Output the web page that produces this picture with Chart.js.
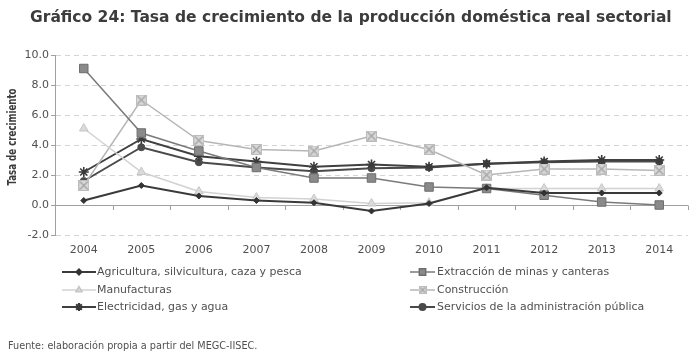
<!DOCTYPE html>
<html><head><meta charset="utf-8">
<script src="https://cdn.jsdelivr.net/npm/chart.js@4/dist/chart.umd.min.js"></script>
<style>
html,body{margin:0;padding:0;overflow:hidden;background:#fff;width:689px;height:359px}
#wrap{position:relative;width:695px;height:359px}
</style>
</head><body><div id="wrap"><canvas id="c" width="695" height="359"></canvas></div>
<script>
// ---- data ----
const years = ['2004','2005','2006','2007','2008','2009','2010','2011','2012','2013','2014'];
const agricultura  = [0.3, 1.3, 0.6, 0.3, 0.15, -0.4, 0.1, 1.15, 0.8, 0.8, 0.8];
const extraccion   = [9.1, 4.8, 3.6, 2.5, 1.8, 1.8, 1.2, 1.1, 0.65, 0.2, 0.0];
const manufacturas = [5.1, 2.2, 0.9, 0.5, 0.4, 0.1, 0.15, 1.1, 1.1, 1.1, 1.1];
const construccion = [1.3, 7.0, 4.3, 3.7, 3.6, 4.6, 3.7, 2.0, 2.4, 2.4, 2.3];
const electricidad = [2.2, 4.4, 3.25, 2.9, 2.55, 2.7, 2.55, 2.75, 2.9, 3.0, 3.0];
const servicios    = [1.6, 3.85, 2.85, 2.5, 2.25, 2.45, 2.5, 2.75, 2.85, 2.9, 2.9];
const seriesNames = ['Agricultura, silvicultura, caza y pesca','Extracción de minas y canteras','Manufacturas','Construcción','Electricidad, gas y agua','Servicios de la administración pública'];
const yTicks = [-2, 0, 2, 4, 6, 8, 10];
const titleText = 'Gráfico 24: Tasa de crecimiento de la producción doméstica real sectorial';
const yTitleText = 'Tasa de crecimiento';
const sourceText = 'Fuente: elaboración propia a partir del MEGC-IISEC.';

const FONT = "'DejaVu Sans', sans-serif";
const TEXT = '#505050';

function constrMarker(size){
  const c = document.createElement('canvas'); c.width = size; c.height = size;
  const g = c.getContext('2d');
  g.fillStyle = '#d8d8d8'; g.fillRect(0,0,size,size);
  g.strokeStyle = '#bcbcbc'; g.lineWidth = 1; g.strokeRect(0.5,0.5,size-1,size-1);
  g.strokeStyle = '#a6a6a6'; g.lineWidth = 1.4;
  g.beginPath(); g.moveTo(1.5,1.5); g.lineTo(size-1.5,size-1.5); g.moveTo(size-1.5,1.5); g.lineTo(1.5,size-1.5); g.stroke();
  return c;
}
const constrBig = constrMarker(11), constrSmall = constrMarker(8);

const styles = [
  {data: agricultura, color:'#3a3a3a', width:2, ps:'rectRot', r:3, fill:'#333333', bc:'#333333', lr:2.5},
  {data: extraccion, color:'#7a7a7a', width:1.5, ps:'rect', r:6, fill:'#8a8a8a', bc:'#6e6e6e', lr:4.5},
  {data: manufacturas, color:'#d2d2d2', width:1.5, ps:'triangle', r:5, fill:'#dadada', bc:'#c6c6c6', lr:3.5},
  {data: construccion, color:'#b6b6b6', width:1.5, ps:constrBig, r:5, fill:'#d8d8d8', bc:'#bbbbbb', lr:4, lps:constrSmall},
  {data: electricidad, color:'#404040', width:2, ps:'star', r:5, fill:'#404040', bc:'#3a3a3a', lr:4},
  {data: servicios, color:'#4a4a4a', width:2, ps:'circle', r:3.5, fill:'#4a4a4a', bc:'#4a4a4a', lr:3}
];

const datasets = styles.map((s,i)=>({
  label: seriesNames[i], data: s.data, borderColor: s.color, borderWidth: s.width,
  pointStyle: s.ps, pointRadius: s.r, pointHoverRadius: s.r, pointBackgroundColor: s.fill,
  pointBorderColor: s.bc, pointBorderWidth: s.ps==='star'?1.6:1, fill:false, tension:0
}));

function fitFont(ctx, text, target, weight){
  ctx.font = weight + ' 20px ' + FONT;
  const w = ctx.measureText(text).width;
  return 20 * target / w;
}

const deco = {
  id:'deco',
  beforeDatasetsDraw(chart){
    const {ctx, chartArea:a, scales:{x,y}} = chart;
    const y0 = y.getPixelForValue(0);
    ctx.save();
    ctx.strokeStyle = '#a0a0a0'; ctx.lineWidth = 1;
    ctx.beginPath(); ctx.moveTo(a.left, Math.round(y0)+0.5); ctx.lineTo(a.right, Math.round(y0)+0.5);
    const n = years.length, step = (a.right - a.left)/n;
    for(let i=0;i<=n;i++){ const px = Math.round(a.left + i*step)+0.5; ctx.moveTo(px, Math.round(y0)+0.5); ctx.lineTo(px, Math.round(y0)+5); }
    ctx.stroke();
    ctx.restore();
  },
  afterDraw(chart){
    const ctx = chart.ctx;
    ctx.save();
    // title
    let fs = fitFont(ctx, titleText, 642, 'bold');
    ctx.font = 'bold ' + fs + 'px ' + FONT; ctx.fillStyle = '#3c3c3c';
    ctx.textBaseline = 'middle'; ctx.textAlign = 'left';
    ctx.fillText(titleText, 30, 18);
    // y title (bold 13px, compressed along its length to the reference span)
    ctx.save(); ctx.translate(12.5, 137); ctx.rotate(-Math.PI/2);
    ctx.font = 'bold 13px ' + FONT;
    const tw = ctx.measureText(yTitleText).width;
    ctx.scale(97 / tw, 1);
    ctx.fillStyle = '#3c3c3c'; ctx.textAlign = 'center'; ctx.textBaseline = 'middle';
    ctx.fillText(yTitleText, 0, 0); ctx.restore();
    // legend
    const lfs = fitFont(ctx, seriesNames[0], 205, 'normal');
    const cols = [{x1:62,x2:96,tx:97},{x1:410,x2:435,tx:437}];
    const rows = [272, 290, 307];
    styles.forEach((s,i)=>{
      const c = cols[i%2], yy = rows[Math.floor(i/2)];
      ctx.strokeStyle = s.color; ctx.lineWidth = s.width;
      ctx.beginPath(); ctx.moveTo(c.x1, yy); ctx.lineTo(c.x2, yy); ctx.stroke();
      ctx.fillStyle = s.fill; ctx.strokeStyle = s.bc;
      Chart.helpers.drawPoint(ctx, {pointStyle: s.lps || s.ps, radius: s.lr, rotation:0, borderWidth: s.ps==='star'?1.4:1}, (c.x1+c.x2)/2, yy);
      ctx.font = lfs + 'px ' + FONT; ctx.fillStyle = TEXT; ctx.textAlign='left'; ctx.textBaseline='middle';
      ctx.fillText(seriesNames[i], c.tx, yy);
    });
    // source
    fs = fitFont(ctx, sourceText, 250, 'normal');
    ctx.font = fs + 'px ' + FONT; ctx.fillStyle = TEXT;
    ctx.fillText(sourceText, 8, 346);
    ctx.restore();
  }
};

new Chart(document.getElementById('c'), {
  type:'line',
  data:{labels: years, datasets},
  plugins:[deco],
  options:{
    responsive:false, animation:false, events:[],
    layout:{padding:{left:0, right:3, top:55, bottom:100}},
    plugins:{legend:{display:false}, title:{display:false}, tooltip:{enabled:false}},
    scales:{
      x:{
        offset:true,
        grid:{display:false, drawTicks:false},
        border:{display:false},
        ticks:{color:TEXT, font:{family:FONT, size:11}, padding:9, maxRotation:0, autoSkip:false},
        afterFit(s){ s.height = 24; }
      },
      y:{
        min:-2, max:10,
        afterBuildTicks(s){ s.ticks = yTicks.map(v=>({value:v})); },
        grid:{color:'#d4d4d4', lineWidth:1, tickLength:4, tickColor:'#a0a0a0', tickBorderDash:[]},
        border:{display:true, color:'#a0a0a0', dash:[5,4]},
        ticks:{color:TEXT, font:{family:FONT, size:11}, padding:2, callback:v=>Number(v).toFixed(1)},
        afterFit(s){ s.width = 55; }
      }
    }
  }
});
</script></body></html>
